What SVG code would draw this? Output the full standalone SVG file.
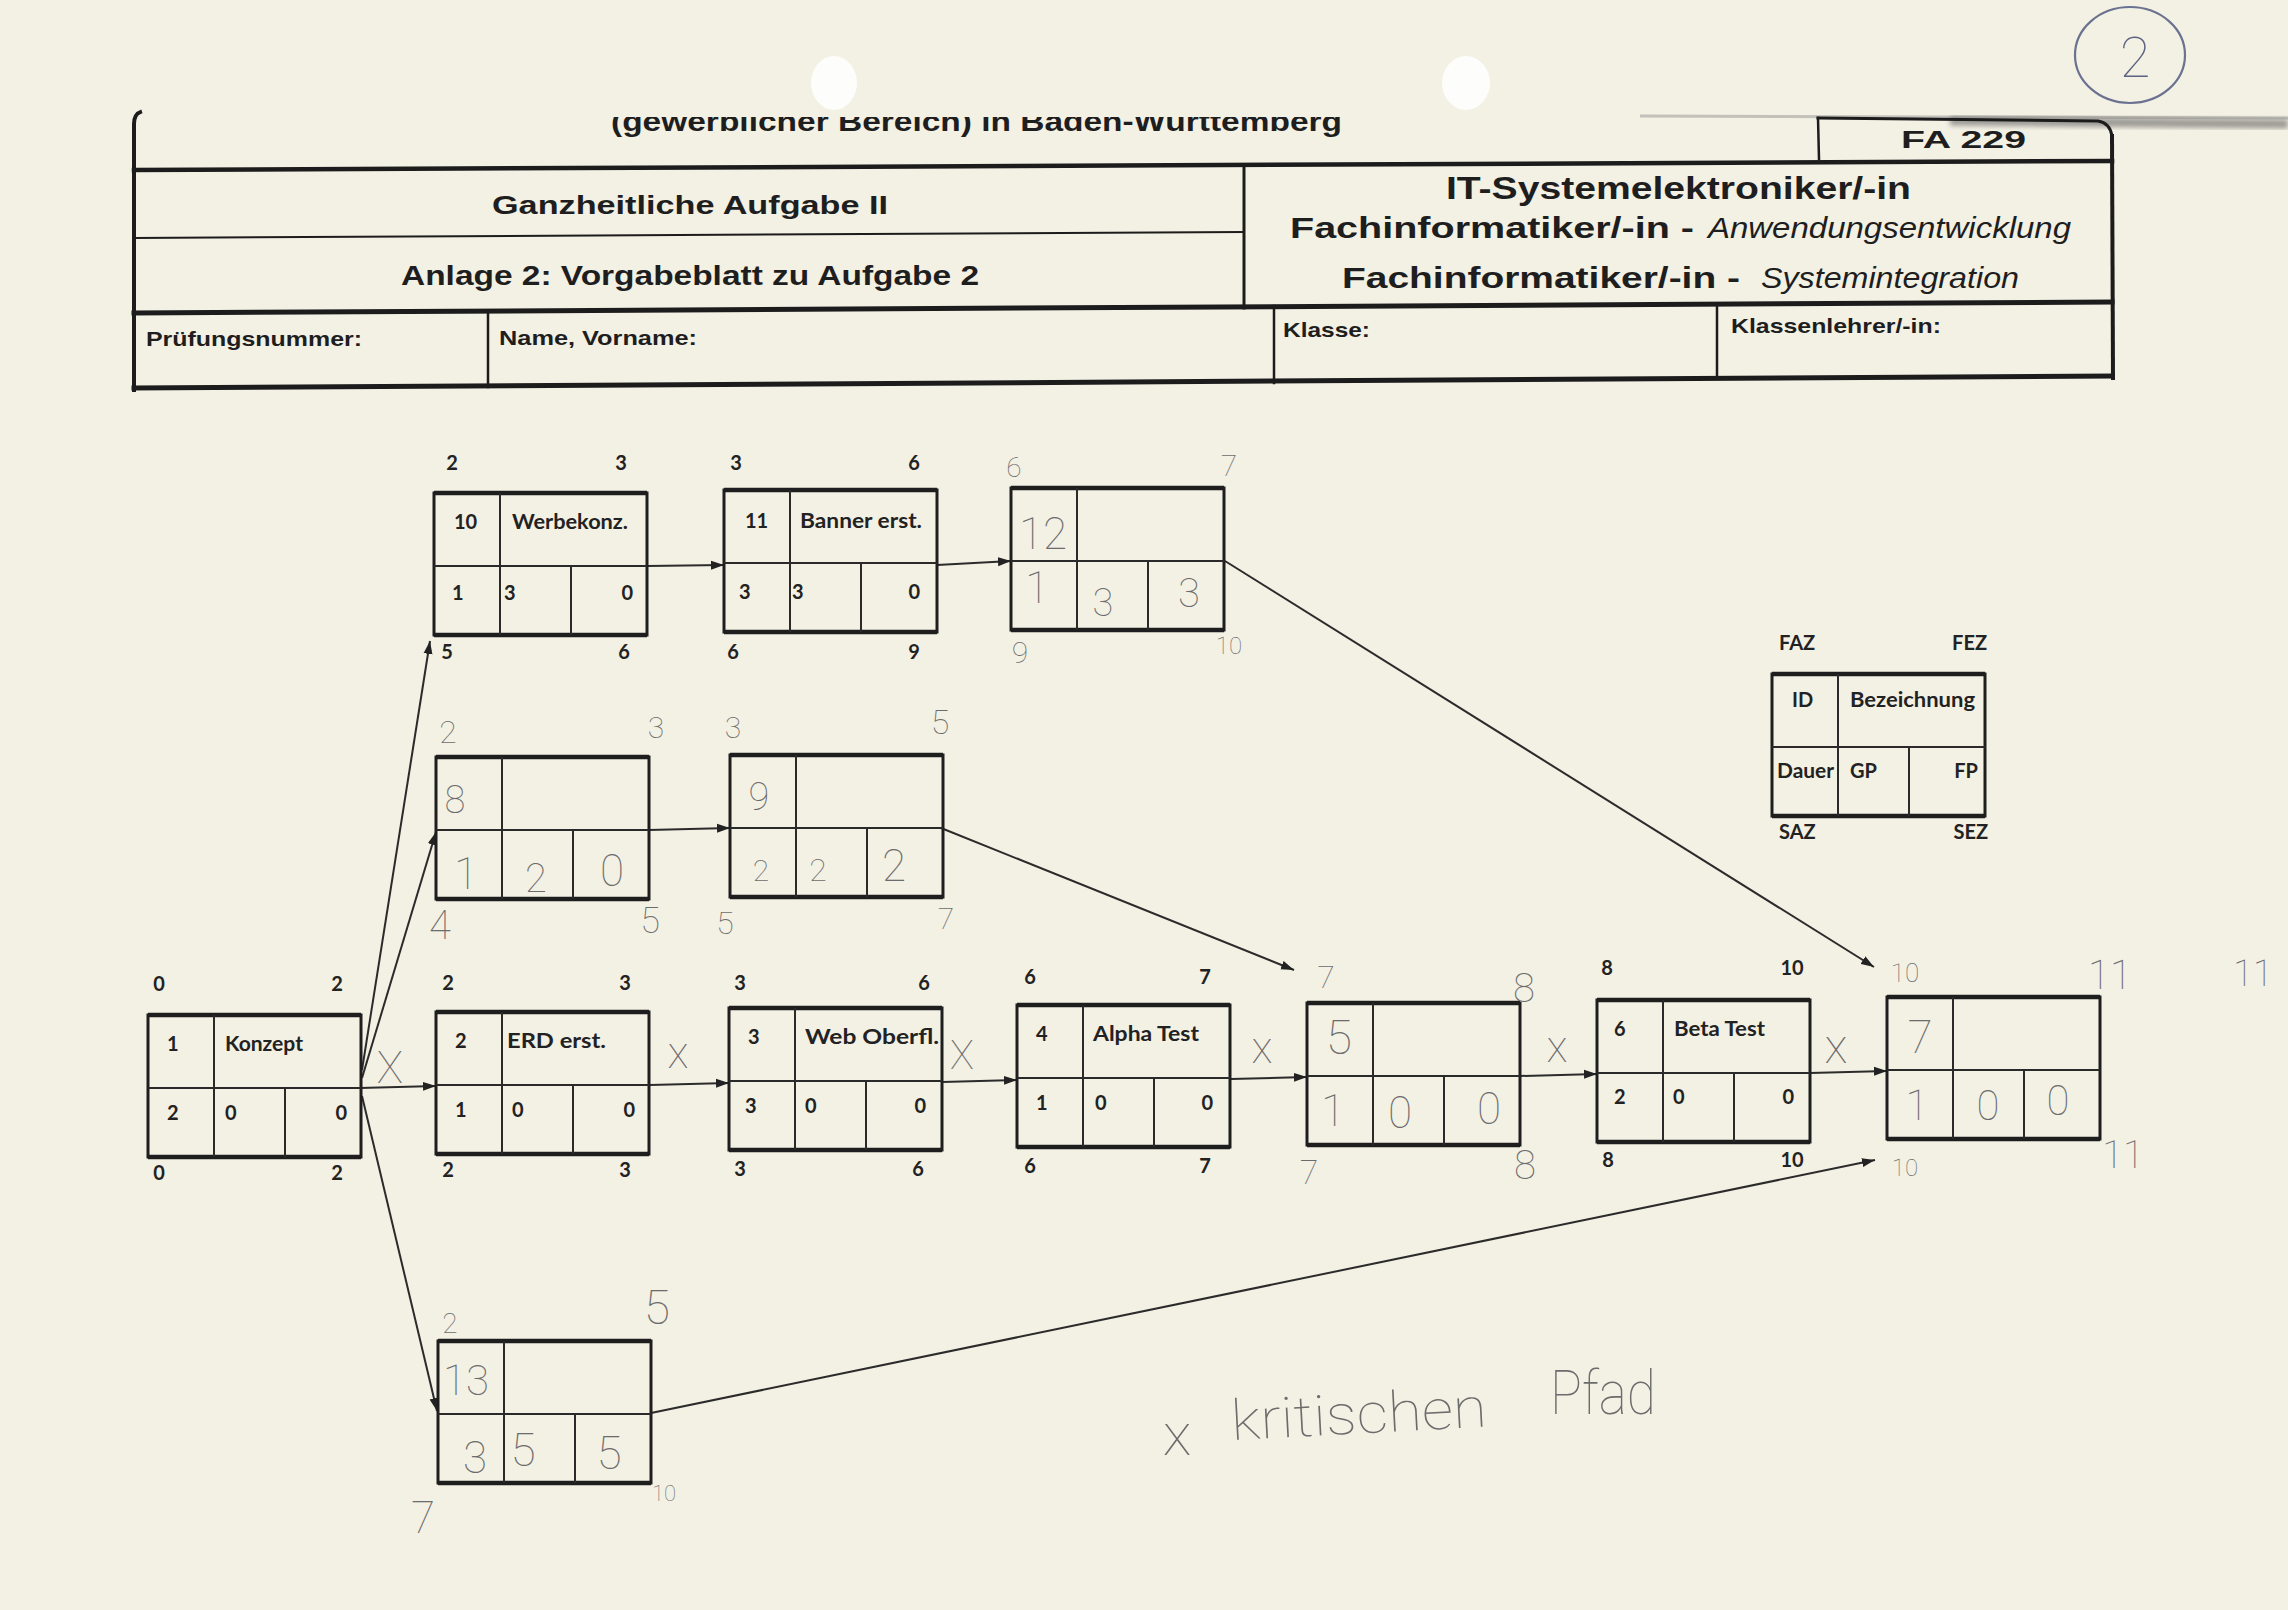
<svg xmlns="http://www.w3.org/2000/svg" xmlns:xlink="http://www.w3.org/1999/xlink" width="2288" height="1610" viewBox="0 0 2288 1610">
  <style>
    .hl { stroke: #1c1c1c; fill: none; stroke-linecap: square; }
    .ht { font-family: "Liberation Sans", Arial, sans-serif; font-weight: 700; fill: #1e1e1e; }
    .hi { font-family: "Liberation Sans", Arial, sans-serif; font-weight: 400; font-style: italic; fill: #1e1e1e; }
    .box { fill: none; stroke: #1e1e1e; stroke-width: 3; }
    .edge { stroke: #1e1e1e; stroke-width: 4.5; }
    .mid { stroke: #2a2a2a; stroke-width: 2.2; }
    .div { stroke: #2a2a2a; stroke-width: 2; }
    .p { font-family: Lato, "Open Sans", sans-serif; font-weight: 700; font-size: 20px; fill: #222; }
    .h { font-family: Roboto, "DejaVu Sans", sans-serif; font-weight: 100; fill: #6c6c6c; text-anchor: middle; }
    .hs { text-anchor: start; }
    .e { text-anchor: end; }
    .m { text-anchor: middle; }
    .conn line { stroke: #2b2b2b; stroke-width: 2; marker-end: url(#arr); }
  </style>
  <defs>
    <marker id="arr" markerUnits="userSpaceOnUse" markerWidth="14" markerHeight="10" refX="13" refY="5" orient="auto">
      <path d="M0,0.5 L13,5 L0,9.5 z" fill="#222"/>
    </marker>
    <g id="frame">
      <rect x="0" y="0" width="213" height="142" class="box"/>
      <line x1="0" y1="0" x2="213" y2="0" class="edge"/>
      <line x1="0" y1="142" x2="213" y2="142" class="edge"/>
      <line x1="0" y1="73" x2="213" y2="73" class="mid"/>
      <line x1="66" y1="0" x2="66" y2="142" class="div"/>
      <line x1="137" y1="73" x2="137" y2="142" class="div"/>
    </g>
    <clipPath id="topcut">
      <rect x="0" y="117" width="2288" height="100"/>
    </clipPath>
    <filter id="smear" x="-5%" y="-200%" width="110%" height="500%">
      <feGaussianBlur stdDeviation="2.5"/>
    </filter>
  </defs>

  <!-- paper -->
  <rect x="0" y="0" width="2288" height="1610" fill="#f3f0e4"/>
  <ellipse cx="834" cy="83" rx="23" ry="27" fill="#fdfdfb"/>
  <ellipse cx="1466" cy="83" rx="24" ry="27" fill="#fdfdfb"/>

  <!-- exam sheet header -->
  <g id="header">
    <path d="M1640,116 L2288,118" stroke="#888" stroke-width="3" opacity="0.45" fill="none"/>
    <path d="M1950,121 L2288,124" stroke="#555" stroke-width="9" opacity="0.55" fill="none" filter="url(#smear)"/>
    <path d="M1818,118 L2098,121 Q2110,123 2112,136" class="hl" stroke-width="3"/>
    <line x1="1818" y1="118" x2="1819" y2="159" class="hl" stroke-width="2.5"/>
    <path d="M140,112 Q134,114 134,124 L134,390" class="hl" stroke-width="4"/>
    <line x1="2112" y1="136" x2="2113" y2="378" class="hl" stroke-width="4"/>
    <line x1="134" y1="170" x2="2112" y2="161" class="hl" stroke-width="4.5"/>
    <line x1="134" y1="238" x2="1243" y2="232" class="hl" stroke-width="2"/>
    <line x1="134" y1="313" x2="2112" y2="302" class="hl" stroke-width="5"/>
    <line x1="134" y1="388" x2="2112" y2="376" class="hl" stroke-width="5"/>
    <line x1="1244" y1="165" x2="1244" y2="308" class="hl" stroke-width="3"/>
    <line x1="488" y1="314" x2="488" y2="387" class="hl" stroke-width="2.5"/>
    <line x1="1274" y1="306" x2="1274" y2="383" class="hl" stroke-width="2.5"/>
    <line x1="1717" y1="304" x2="1717" y2="378" class="hl" stroke-width="2.5"/>

    <text class="ht" x="611" y="131" font-size="28" textLength="731" lengthAdjust="spacingAndGlyphs" clip-path="url(#topcut)">(gewerblicher Bereich) in Baden-Württemberg</text>
    <text class="ht" x="1901" y="148" font-size="24" textLength="125" lengthAdjust="spacingAndGlyphs">FA 229</text>
    <text class="ht" x="492" y="214" font-size="26" textLength="396" lengthAdjust="spacingAndGlyphs">Ganzheitliche Aufgabe II</text>
    <text class="ht" x="401" y="285" font-size="27" textLength="578" lengthAdjust="spacingAndGlyphs">Anlage 2: Vorgabeblatt zu Aufgabe 2</text>
    <text class="ht" x="1446" y="199" font-size="31" textLength="465" lengthAdjust="spacingAndGlyphs">IT-Systemelektroniker/-in</text>
    <text y="238" font-size="30"><tspan class="ht" x="1290" textLength="404" lengthAdjust="spacingAndGlyphs">Fachinformatiker/-in -</tspan><tspan class="hi" x="1700" textLength="371" lengthAdjust="spacingAndGlyphs"> Anwendungsentwicklung</tspan></text>
    <text y="288" font-size="30"><tspan class="ht" x="1342" textLength="398" lengthAdjust="spacingAndGlyphs">Fachinformatiker/-in -</tspan><tspan class="hi" x="1752" textLength="267" lengthAdjust="spacingAndGlyphs"> Systemintegration</tspan></text>
    <text class="ht" x="146" y="346" font-size="21" textLength="216" lengthAdjust="spacingAndGlyphs">Prüfungsnummer:</text>
    <text class="ht" x="499" y="345" font-size="21" textLength="198" lengthAdjust="spacingAndGlyphs">Name, Vorname:</text>
    <text class="ht" x="1283" y="337" font-size="21" textLength="87" lengthAdjust="spacingAndGlyphs">Klasse:</text>
    <text class="ht" x="1731" y="333" font-size="21" textLength="210" lengthAdjust="spacingAndGlyphs">Klassenlehrer/-in:</text>
  </g>

  <!-- page number -->
  <g id="pagemark">
    <ellipse cx="2130" cy="55" rx="55" ry="48" fill="none" stroke="#6b7290" stroke-width="2.2"/>
    <text x="2135" y="77" font-size="56" font-family="Roboto, sans-serif" font-weight="100" fill="#5d6482" text-anchor="middle">2</text>
  </g>

  <!-- connectors -->
  <g id="connectors" class="conn">
    <line x1="360" y1="1088" x2="436" y2="1086"/>
    <line x1="362" y1="1070" x2="430" y2="641"/>
    <line x1="362" y1="1078" x2="436" y2="832"/>
    <line x1="362" y1="1096" x2="437" y2="1411"/>
    <line x1="647" y1="566" x2="724" y2="565"/>
    <line x1="937" y1="565" x2="1011" y2="561"/>
    <line x1="1225" y1="561" x2="1874" y2="967"/>
    <line x1="649" y1="830" x2="730" y2="828"/>
    <line x1="941" y1="828" x2="1294" y2="970"/>
    <line x1="650" y1="1085" x2="729" y2="1083"/>
    <line x1="942" y1="1082" x2="1017" y2="1080"/>
    <line x1="1231" y1="1079" x2="1307" y2="1077"/>
    <line x1="1520" y1="1076" x2="1597" y2="1074"/>
    <line x1="1810" y1="1073" x2="1887" y2="1071"/>
    <line x1="651" y1="1413" x2="1875" y2="1160"/>
  </g>

  <!-- node 1 -->
  <g id="n1" transform="translate(148,1015)">
    <use xlink:href="#frame"/>
    <text class="p m" x="11" y="-24">0</text><text class="p m" x="189" y="-24">2</text>
    <text class="p m" x="11" y="165">0</text><text class="p m" x="189" y="165">2</text>
    <text class="p" x="19" y="36">1</text>
    <text class="p" x="77" y="36" textLength="78" lengthAdjust="spacingAndGlyphs">Konzept</text>
    <text class="p" x="19" y="105">2</text><text class="p" x="77" y="105">0</text><text class="p e" x="199" y="105">0</text>
  </g>

  <!-- node 2 -->
  <g id="n2" transform="translate(436,1012)">
    <use xlink:href="#frame"/>
    <text class="p m" x="12" y="-22">2</text><text class="p m" x="189" y="-22">3</text>
    <text class="p m" x="12" y="165">2</text><text class="p m" x="189" y="165">3</text>
    <text class="p" x="19" y="36">2</text>
    <text class="p" x="71" y="36" textLength="99" lengthAdjust="spacingAndGlyphs">ERD erst.</text>
    <text class="p" x="19" y="105">1</text><text class="p" x="76" y="105">0</text><text class="p e" x="199" y="105">0</text>
  </g>

  <!-- node 3 -->
  <g id="n3" transform="translate(729,1008)">
    <use xlink:href="#frame"/>
    <text class="p m" x="11" y="-18">3</text><text class="p m" x="195" y="-18">6</text>
    <text class="p m" x="11" y="168">3</text><text class="p m" x="189" y="168">6</text>
    <text class="p" x="19" y="36">3</text>
    <text class="p" x="76" y="36" textLength="134" lengthAdjust="spacingAndGlyphs">Web Oberfl.</text>
    <text class="p" x="16" y="105">3</text><text class="p" x="76" y="105">0</text><text class="p e" x="197" y="105">0</text>
  </g>

  <!-- node 4 -->
  <g id="n4" transform="translate(1017,1005)">
    <use xlink:href="#frame"/>
    <text class="p m" x="13" y="-21">6</text><text class="p m" x="188" y="-21">7</text>
    <text class="p m" x="13" y="168">6</text><text class="p m" x="188" y="168">7</text>
    <text class="p" x="19" y="36">4</text>
    <text class="p" x="76" y="36" textLength="106" lengthAdjust="spacingAndGlyphs">Alpha Test</text>
    <text class="p" x="19" y="105">1</text><text class="p" x="78" y="105">0</text><text class="p e" x="196" y="105">0</text>
  </g>

  <!-- node 5 -->
  <g id="n5" transform="translate(1307,1003)">
    <use xlink:href="#frame"/>
    <text class="h" x="19" y="-15" font-size="32">7</text>
    <text class="h" x="217" y="-1" font-size="40">8</text>
    <text class="h" x="32" y="51" font-size="48" fill="#a8a8a8">5</text>
    <text class="h" x="26" y="123" font-size="44">1</text>
    <text class="h" x="93" y="125" font-size="44">0</text>
    <text class="h" x="182" y="121" font-size="44">0</text>
    <text class="h" x="2" y="181" font-size="34">7</text>
    <text class="h" x="218" y="176" font-size="40">8</text>
  </g>

  <!-- node 6 -->
  <g id="n6" transform="translate(1597,1000)">
    <use xlink:href="#frame"/>
    <text class="p m" x="10" y="-25">8</text><text class="p m" x="195" y="-25">10</text>
    <text class="p m" x="11" y="167">8</text><text class="p m" x="195" y="167">10</text>
    <text class="p" x="17" y="36">6</text>
    <text class="p" x="77" y="36" textLength="91" lengthAdjust="spacingAndGlyphs">Beta Test</text>
    <text class="p" x="17" y="104">2</text><text class="p" x="76" y="104">0</text><text class="p e" x="197" y="104">0</text>
  </g>

  <!-- node 7 -->
  <g id="n7" transform="translate(1887,997)">
    <use xlink:href="#frame"/>
    <text class="h" x="18" y="-15" font-size="26">10</text>
    <text class="h" x="223" y="-8" font-size="40">11</text>
    <text class="h" x="33" y="56" font-size="46">7</text>
    <text class="h" x="30" y="123" font-size="42">1</text>
    <text class="h" x="101" y="123" font-size="42">0</text>
    <text class="h" x="171" y="118" font-size="42">0</text>
    <text class="h" x="18" y="179" font-size="24">10</text>
    <text class="h" x="236" y="171" font-size="38">11</text>
  </g>

  <!-- node 8 -->
  <g id="n8" transform="translate(436,757)">
    <use xlink:href="#frame"/>
    <text class="h" x="12" y="-14" font-size="32">2</text>
    <text class="h" x="220" y="-19" font-size="30">3</text>
    <text class="h" x="19" y="56" font-size="38">8</text>
    <text class="h" x="30" y="132" font-size="44">1</text>
    <text class="h" x="100" y="135" font-size="40">2</text>
    <text class="h" x="176" y="129" font-size="44">0</text>
    <text class="h" x="4" y="182" font-size="40">4</text>
    <text class="h" x="214" y="176" font-size="36">5</text>
  </g>

  <!-- node 9 -->
  <g id="n9" transform="translate(730,755)">
    <use xlink:href="#frame"/>
    <text class="h" x="3" y="-17" font-size="30">3</text>
    <text class="h" x="210" y="-21" font-size="34">5</text>
    <text class="h" x="29" y="55" font-size="38">9</text>
    <text class="h" x="31" y="126" font-size="30">2</text>
    <text class="h" x="88" y="126" font-size="32">2</text>
    <text class="h" x="164" y="126" font-size="44">2</text>
    <text class="h" x="-5" y="179" font-size="32">5</text>
    <text class="h" x="216" y="174" font-size="30">7</text>
  </g>

  <!-- node 10 -->
  <g id="n10" transform="translate(434,493)">
    <use xlink:href="#frame"/>
    <text class="p m" x="18" y="-23">2</text><text class="p m" x="187" y="-23">3</text>
    <text class="p m" x="13" y="166">5</text><text class="p m" x="190" y="166">6</text>
    <text class="p" x="20" y="36">10</text>
    <text class="p" x="78" y="36" textLength="116" lengthAdjust="spacingAndGlyphs">Werbekonz.</text>
    <text class="p" x="18" y="107">1</text><text class="p" x="70" y="107">3</text><text class="p e" x="199" y="107">0</text>
  </g>

  <!-- node 11 -->
  <g id="n11" transform="translate(724,490)">
    <use xlink:href="#frame"/>
    <text class="p m" x="12" y="-20">3</text><text class="p m" x="190" y="-20">6</text>
    <text class="p m" x="9" y="169">6</text><text class="p m" x="190" y="169">9</text>
    <text class="p" x="21" y="38">11</text>
    <text class="p" x="76" y="38" textLength="122" lengthAdjust="spacingAndGlyphs">Banner erst.</text>
    <text class="p" x="15" y="109">3</text><text class="p" x="68" y="109">3</text><text class="p e" x="196" y="109">0</text>
  </g>

  <!-- node 12 -->
  <g id="n12" transform="translate(1011,488)">
    <use xlink:href="#frame"/>
    <text class="h" x="3" y="-11" font-size="28">6</text>
    <text class="h" x="218" y="-12" font-size="30">7</text>
    <text class="h" x="32" y="61" font-size="44">12</text>
    <text class="h" x="26" y="115" font-size="44">1</text>
    <text class="h" x="92" y="128" font-size="38">3</text>
    <text class="h" x="178" y="119" font-size="40">3</text>
    <text class="h" x="9" y="175" font-size="30">9</text>
    <text class="h" x="218" y="166" font-size="24">10</text>
  </g>

  <!-- node 13 -->
  <g id="n13" transform="translate(438,1341)">
    <use xlink:href="#frame"/>
    <text class="h" x="12" y="-8" font-size="28">2</text>
    <text class="h" x="219" y="-17" font-size="48">5</text>
    <text class="h" x="28" y="54" font-size="42">13</text>
    <text class="h" x="37" y="132" font-size="44">3</text>
    <text class="h" x="85" y="125" font-size="46">5</text>
    <text class="h" x="171" y="128" font-size="46">5</text>
    <text class="h" x="-15" y="192" font-size="44">7</text>
    <text class="h" x="226" y="160" font-size="22">10</text>
  </g>

  <!-- legend: node field layout -->
  <g id="legend" transform="translate(1772,674)">
    <use xlink:href="#frame"/>
    <text class="p" x="7" y="-24">FAZ</text><text class="p e" x="215" y="-24">FEZ</text>
    <text class="p" x="7" y="165">SAZ</text><text class="p e" x="216" y="165">SEZ</text>
    <text class="p" x="20" y="33">ID</text>
    <text class="p" x="78" y="33" textLength="125" lengthAdjust="spacingAndGlyphs">Bezeichnung</text>
    <text class="p" x="5" y="104" textLength="57" lengthAdjust="spacingAndGlyphs">Dauer</text>
    <text class="p" x="78" y="104">GP</text><text class="p e" x="206" y="104">FP</text>
  </g>

  <!-- pencil notes: critical path marks -->
  <g id="notes">
    <text class="h" x="390" y="1083" font-size="44">X</text>
    <text class="h" x="678" y="1068" font-size="44">x</text>
    <text class="h" x="962" y="1069" font-size="40">X</text>
    <text class="h" x="1262" y="1063" font-size="44">x</text>
    <text class="h" x="1557" y="1062" font-size="44">x</text>
    <text class="h" x="1836" y="1063" font-size="48">x</text>
    <text class="h" x="2253" y="986" font-size="36">11</text>
    <text class="h" x="1177" y="1455" font-size="60">x</text>
    <text class="h hs" x="1232" y="1440" font-size="56" textLength="256" lengthAdjust="spacingAndGlyphs" transform="rotate(-3 1232 1440)">kritischen</text>
    <text class="h hs" x="1550" y="1414" font-size="62" textLength="106" lengthAdjust="spacingAndGlyphs">Pfad</text>
  </g>
</svg>
